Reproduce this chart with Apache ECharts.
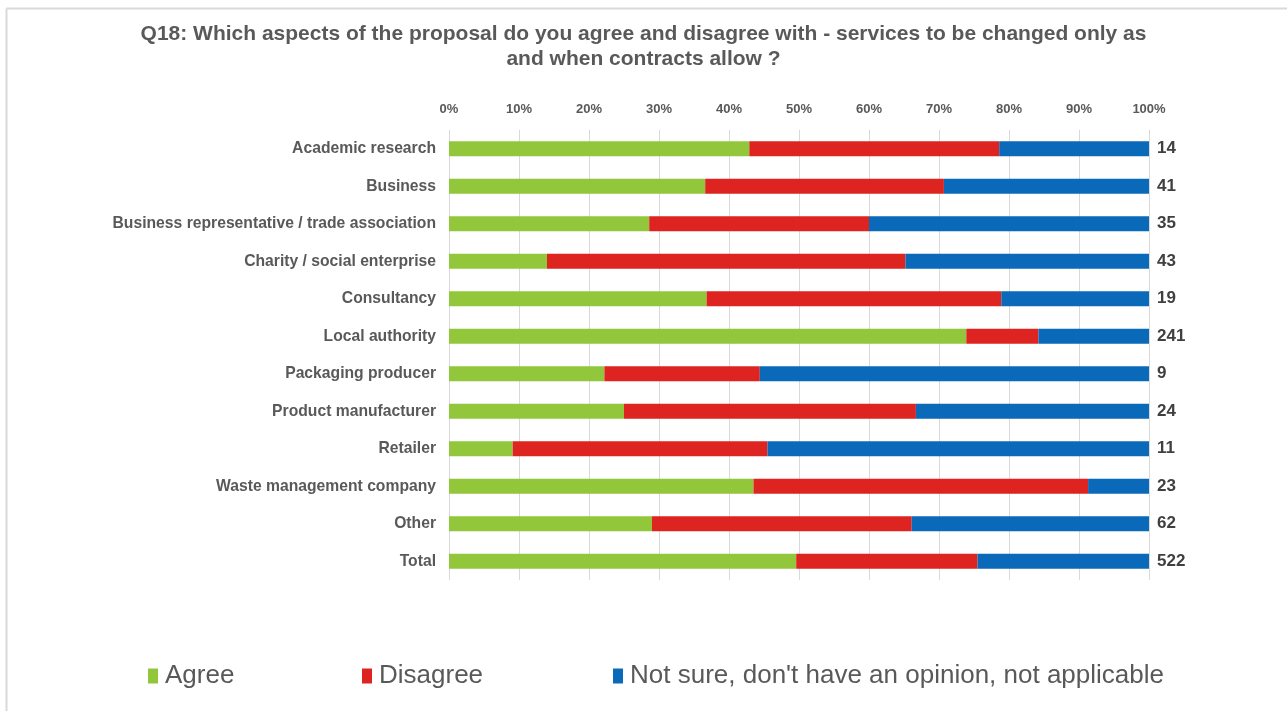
<!DOCTYPE html>
<html>
<head>
<meta charset="utf-8">
<script src="https://cdn.jsdelivr.net/npm/echarts@6/dist/echarts.min.js"></script>
<style>
  html, body { margin: 0; padding: 0; background: #fff; }
  #chart { width: 1287px; height: 711px; }
</style>
</head>
<body>
<div id="chart"></div>
<script>
// Respondent groups, top to bottom
const categories = [
  'Academic research',
  'Business',
  'Business representative / trade association',
  'Charity / social enterprise',
  'Consultancy',
  'Local authority',
  'Packaging producer',
  'Product manufacturer',
  'Retailer',
  'Waste management company',
  'Other',
  'Total'
];

// Share of responses in each group (%)
const agree    = [42.9, 36.6, 28.6, 14.0, 36.8, 73.9, 22.2, 25.0,  9.1, 43.5, 29.0, 49.6];
const disagree = [35.7, 34.1, 31.4, 51.2, 42.1, 10.3, 22.2, 41.7, 36.4, 47.8, 37.1, 25.9];
const notSure  = [21.4, 29.3, 40.0, 34.8, 21.1, 15.8, 55.6, 33.3, 54.5,  8.7, 33.9, 24.5];

// Number of respondents in each group
const counts = [14, 41, 35, 43, 19, 241, 9, 24, 11, 23, 62, 522];

const seriesNames = ['Agree', 'Disagree', "Not sure, don't have an opinion, not applicable"];
const colors = ['#92C73C', '#DE2421', '#0A69B8'];

const FONT = 'Liberation Sans, Arial, sans-serif';
const chart = echarts.init(document.getElementById('chart'));

function makeSeries(name, data, color, withCount) {
  const s = {
    name: name,
    type: 'bar',
    stack: 'total',
    barWidth: 15,
    data: data,
    itemStyle: { color: color },
    emphasis: { disabled: true }
  };
  if (withCount) {
    s.label = {
      show: true,
      position: 'right',
      distance: 8,
      formatter: p => String(counts[p.dataIndex]),
      color: '#404040',
      fontFamily: FONT,
      fontWeight: 'bold',
      fontSize: 17
    };
  }
  return s;
}

// one legend block per series so each entry sits at its own x
const legendLeft = [143, 357, 608];
const legends = seriesNames.map((n, i) => ({
  left: legendLeft[i],
  bottom: 17,
  itemWidth: 10,
  itemHeight: 15,
  itemGap: 0,
  icon: 'rect',
  textStyle: {
    fontFamily: FONT,
    fontSize: 26,
    color: '#595959',
    padding: [0, 0, 0, 2]
  },
  data: [n]
}));

chart.setOption({
  animation: false,
  backgroundColor: '#ffffff',
  title: {
    text: 'Q18: Which aspects of the proposal do you agree and disagree with - services to be changed only as\nand when contracts allow ?',
    left: 'center',
    top: 17,
    textStyle: {
      fontFamily: FONT,
      fontWeight: 'bold',
      fontSize: 21,
      color: '#595959',
      lineHeight: 25,
      align: 'center'
    }
  },
  legend: legends,
  grid: {
    left: 449,
    right: 138,
    top: 130,
    height: 450,
    containLabel: false
  },
  xAxis: {
    type: 'value',
    position: 'top',
    min: 0,
    max: 100,
    interval: 10,
    axisLine: { show: false },
    axisTick: { show: false },
    axisLabel: {
      formatter: '{value}%',
      margin: 14,
      color: '#595959',
      fontFamily: FONT,
      fontWeight: 'bold',
      fontSize: 13
    },
    splitLine: { show: true, lineStyle: { color: '#d9d9d9', width: 1 } }
  },
  yAxis: {
    type: 'category',
    inverse: true,
    data: categories,
    axisLine: { show: false },
    axisTick: { show: false },
    axisLabel: {
      margin: 13,
      color: '#595959',
      fontFamily: FONT,
      fontWeight: 'bold',
      fontSize: 15.7
    }
  },
  graphic: [
    { type: 'line', shape: { x1: 6.5, y1: 8.5, x2: 1287, y2: 8.5 }, style: { stroke: '#d9d9d9', lineWidth: 2 }, silent: true },
    { type: 'line', shape: { x1: 6.5, y1: 8.5, x2: 6.5, y2: 711 }, style: { stroke: '#d9d9d9', lineWidth: 2 }, silent: true }
  ],
  series: [
    makeSeries(seriesNames[0], agree, colors[0], false),
    makeSeries(seriesNames[1], disagree, colors[1], false),
    makeSeries(seriesNames[2], notSure, colors[2], true)
  ]
});
</script>
</body>
</html>
